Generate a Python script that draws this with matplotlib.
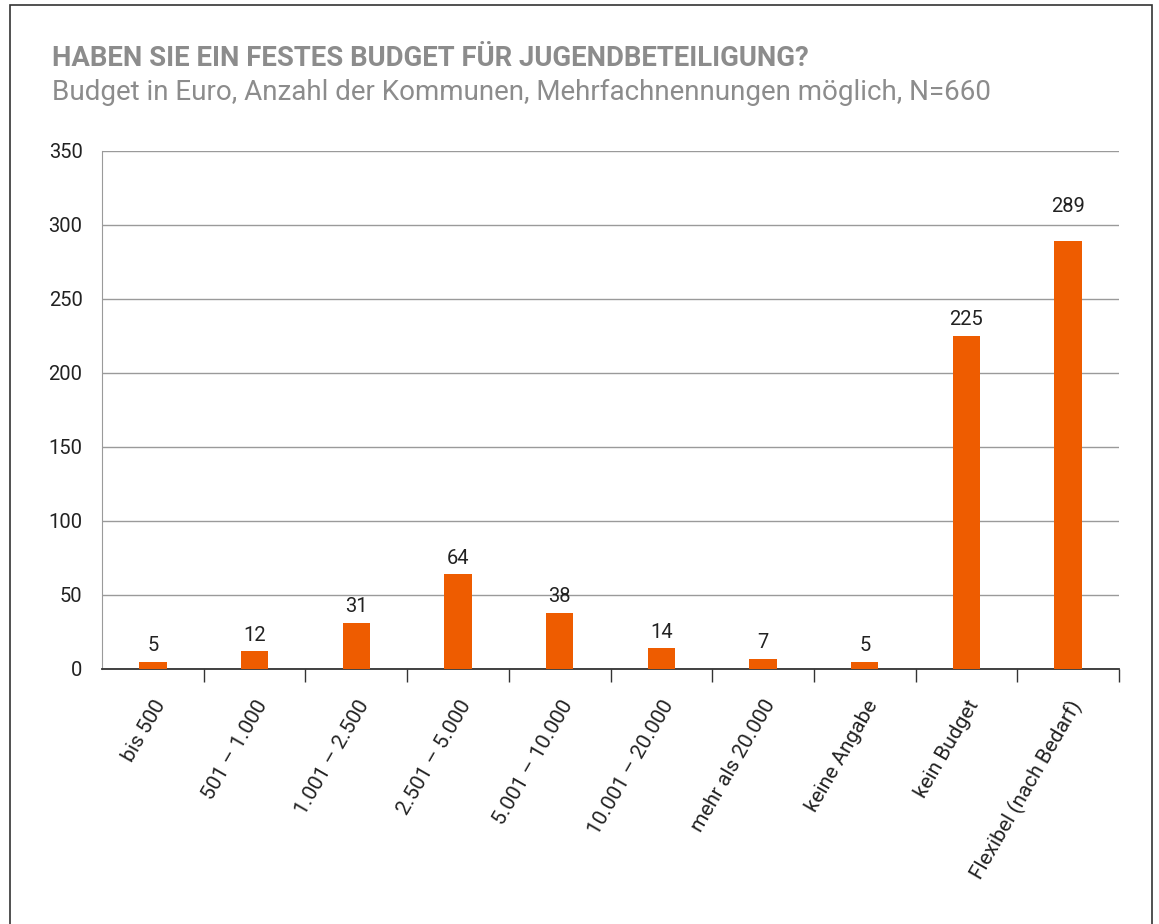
import matplotlib

matplotlib.use("Agg")
import matplotlib.pyplot as plt
from matplotlib.patches import Rectangle

categories = [
    "bis 500",
    "501 – 1.000",
    "1.001 – 2.500",
    "2.501 – 5.000",
    "5.001 – 10.000",
    "10.001 – 20.000",
    "mehr als 20.000",
    "keine Angabe",
    "kein Budget",
    "Flexibel (nach Bedarf)",
]
counts = [5, 12, 31, 64, 38, 14, 7, 5, 225, 289]
y_ticks = [0, 50, 100, 150, 200, 250, 300, 350]

title = "HABEN SIE EIN FESTES BUDGET FÜR JUGENDBETEILIGUNG?"
subtitle = "Budget in Euro, Anzahl der Kommunen, Mehrfachnennungen möglich, N=660"

BAR_COLOR = "#ee5c00"
GREY_TEXT = "#8c8c8c"
TEXT = "#222222"

plt.rcParams["font.family"] = ["Roboto", "DejaVu Sans"]

fig = plt.figure(figsize=(11.59, 9.24), dpi=100)
W, H = 1159, 924
ax = fig.add_axes([102 / W, 1 - 669 / H, (1119 - 102) / W, (669 - 151) / H])

# outer frame
fig.patches.append(Rectangle((10 / W, -0.01), (1152 - 10) / W, 1 - 5 / H + 0.01,
                             transform=fig.transFigure, fill=False,
                             edgecolor="#333333", linewidth=1.2))

fig.text(52 / W, 1 - 58 / H, title, fontsize=19.8, fontweight="bold",
         color=GREY_TEXT, va="center", ha="left")
fig.text(52 / W, 1 - 92 / H, subtitle, fontsize=20, color=GREY_TEXT,
         va="center", ha="left")

x = list(range(len(categories)))
ax.bar(x, counts, width=0.27, color=BAR_COLOR, zorder=3)
for xi, v in zip(x, counts):
    # keep the label clear of the 300 grid line
    offset = 4.5 if not (280 < v < 300) else 17
    ax.text(xi, v + offset, str(v), ha="center", va="bottom", fontsize=14.5, color=TEXT)

ax.set_xlim(-0.5, len(categories) - 0.5)
ax.set_ylim(0, 350)
ax.set_yticks(y_ticks)
ax.tick_params(axis="y", length=0, labelsize=14.5, labelcolor=TEXT, pad=14)
ax.yaxis.grid(True, color="#9a9a9a", linewidth=1.0, zorder=0)
ax.set_axisbelow(True)

# category labels centred on bars, separator ticks between categories
ax.set_xticks(x)
ax.set_xticklabels(categories, rotation=60, ha="right", rotation_mode="anchor",
                   fontsize=15, color=TEXT)
ax.tick_params(axis="x", which="major", length=0, pad=20)
ax.set_xticks([k + 0.5 for k in range(len(categories))], minor=True)
ax.tick_params(axis="x", which="minor", length=9, width=1, color="#333333",
               direction="out")

for side in ["top", "right"]:
    ax.spines[side].set_visible(False)
ax.spines["left"].set_color("#9a9a9a")
ax.spines["bottom"].set_color("#333333")
ax.spines["bottom"].set_linewidth(1.3)

fig.savefig("out.png", dpi=100)
